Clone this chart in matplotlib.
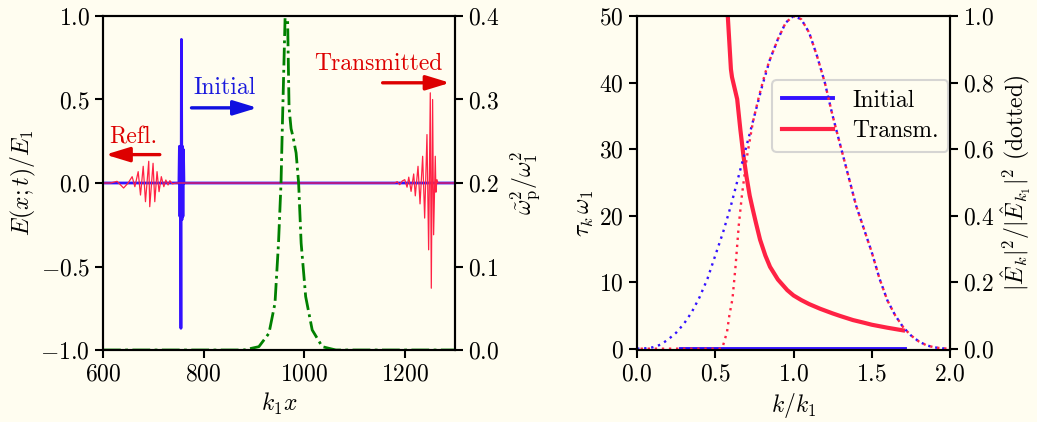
import matplotlib
matplotlib.use("Agg")
import matplotlib.pyplot as plt
import numpy as np

plt.rcParams.update({
    "font.family": "serif",
    "font.serif": ["cmr10"],
    "mathtext.fontset": "cm",
    "axes.formatter.use_mathtext": True,
    "font.size": 17,
    "axes.linewidth": 1.5,
    "xtick.major.width": 1.5,
    "ytick.major.width": 1.5,
    "xtick.major.size": 6,
    "ytick.major.size": 6,
    "axes.unicode_minus": True,
})

BG = "#fffdf0"

# ---------------- left panel data ----------------
init_x = [600, 751, 752, 753, 754, 755, 756, 757, 758, 759, 760, 761, 1300]
init_y = [0, 0, 0.22, -0.2, 0.22, -0.87, 0.86, -0.22, 0.22, -0.2, 0.2, 0, 0]

field_x = [600, 615, 628, 641, 650, 658, 663.4, 670, 674.6, 680, 684.5, 691, 693, 699.6, 703,
           707.5, 711.5, 716, 721, 725, 729.4, 733, 738, 745,
           1180, 1185, 1190, 1195, 1200, 1204.6, 1208, 1212.6, 1217.8, 1221, 1226.4, 1230.4,
           1235.6, 1239.6, 1244.2, 1247.5, 1250.8, 1252.8, 1255.4, 1257.4, 1260.7, 1262,
           1264, 1266, 1300]
field_y = [0, 0, 0.01, -0.03, 0.0, 0.038, -0.022, 0.068, -0.072, 0.10, -0.112, 0.13, -0.142, 0.118, -0.112,
           0.068, -0.052, 0.038, -0.022, 0.018, -0.012, 0.014, -0.005, 0,
           0, 0.008, -0.01, 0.012, 0.02, -0.025, 0.035, -0.05, 0.054, -0.077, 0.10, -0.125,
           0.16, -0.21, 0.29, -0.40, 0.54, -0.63, 0.50, -0.31, 0.16, -0.055,
           0.02, 0, 0]

plasma_x = [600, 880, 910, 930, 942, 949, 954, 957, 960, 963, 965, 967, 970, 974, 978, 984,
            989, 994, 1003, 1016, 1036, 1063, 1100, 1300]
plasma_y = [0, 0, 0.004, 0.02, 0.056, 0.128, 0.2, 0.276, 0.348, 0.42, 0.46, 0.40, 0.29, 0.265,
            0.255, 0.236, 0.2, 0.128, 0.064, 0.024, 0.004, 0, 0, 0]

# ---------------- right panel data ----------------
tau_init_k = [0.28, 1.71]
tau_init = [0, 0]

tau_tr_k = [0.58, 0.59, 0.60, 0.607, 0.62, 0.64, 0.66, 0.68, 0.70, 0.72, 0.74, 0.76, 0.786,
            0.82, 0.85, 0.90, 0.96, 1.0, 1.05, 1.1, 1.17, 1.25, 1.3, 1.38, 1.45, 1.5, 1.6, 1.7]
tau_tr = [50, 46, 42, 40.8, 39.5, 37.5, 33, 29, 25.8, 23, 20.9, 18.9, 16.4,
          14, 12.3, 10.4, 8.8, 8.0, 7.3, 6.7, 6.0, 5.3, 4.9, 4.3, 3.9, 3.6, 3.15, 2.75]

spec_init_k = [0.0, 0.05, 0.1, 0.15, 0.2, 0.25, 0.3, 0.35, 0.4, 0.45, 0.5, 0.55, 0.6, 0.65,
               0.7, 0.75, 0.8, 0.85, 0.9, 0.95, 1.0, 1.05, 1.1, 1.15, 1.2, 1.25, 1.3, 1.35,
               1.4, 1.45, 1.5, 1.55, 1.6, 1.65, 1.7, 1.75, 1.8, 1.85, 1.9, 1.95, 2.0]
spec_init = [0.0, 0.001, 0.004, 0.012, 0.028, 0.048, 0.075, 0.11, 0.155, 0.21, 0.28, 0.35,
             0.43, 0.52, 0.61, 0.70, 0.79, 0.87, 0.93, 0.98, 1.0, 0.99, 0.95, 0.88, 0.80,
             0.70, 0.61, 0.52, 0.43, 0.36, 0.29, 0.21, 0.145, 0.10, 0.065, 0.04, 0.022,
             0.01, 0.004, 0.001, 0.0]

spec_tr_k = [0.0, 0.54, 0.55, 0.575, 0.59, 0.61, 0.63, 0.65, 0.67, 0.70, 0.74, 0.78, 0.82,
             0.85, 0.9, 0.95, 1.0, 1.05, 1.1, 1.15, 1.2, 1.25, 1.3, 1.35, 1.4, 1.45, 1.5,
             1.55, 1.6, 1.65, 1.7, 1.75, 1.8, 1.85, 1.9, 1.95, 2.0]
spec_tr = [0.0, 0.0, 0.01, 0.05, 0.10, 0.15, 0.25, 0.37, 0.46, 0.57, 0.68, 0.76, 0.83,
           0.87, 0.93, 0.98, 1.0, 0.99, 0.95, 0.88, 0.80, 0.70, 0.61, 0.52, 0.43, 0.36, 0.29,
           0.21, 0.145, 0.10, 0.065, 0.04, 0.022, 0.01, 0.004, 0.001, 0.0]

BLUE = "#3311ff"
RED = "#ff2244"
TRED = "#dd0000"
TBLUE = "#1a1add"
GREEN = "#008000"

fig = plt.figure(figsize=(10.37, 4.22), dpi=100, facecolor=BG)
ax1 = fig.add_axes([0.0993, 0.1706, 0.3395, 0.7915], facecolor=BG)
ax1b = ax1.twinx()

ax1.plot(init_x, init_y, color=BLUE, lw=2.0, zorder=3)
ax1.plot(field_x, field_y, color=RED, lw=0.9, zorder=4)
ax1b.plot(plasma_x, plasma_y, color=GREEN, lw=2, ls="-.")

ax1.set_xlim(600, 1300)
ax1.set_ylim(-1, 1)
ax1b.set_ylim(0, 0.4)
ax1.set_xticks([600, 800, 1000, 1200])
ax1.set_yticks([-1.0, -0.5, 0.0, 0.5, 1.0])
ax1b.set_yticks([0.0, 0.1, 0.2, 0.3, 0.4])
ax1.set_xlabel(r"$k_1 x$", labelpad=4)
ax1.set_ylabel(r"$E(x;t)/E_1$", labelpad=2)
ax1b.set_ylabel(r"$\tilde{\omega}_\mathrm{p}^2/\omega_1^2$", labelpad=6)

ax1b.text(842, 0.57 * 0.2 + 0.2, "Initial", color=TBLUE, ha="center", va="center", fontsize=17)
ax1b.text(661, 0.27 * 0.2 + 0.2, "Refl.", color=TRED, ha="center", va="center", fontsize=17)
ax1b.text(1147, 0.71 * 0.2 + 0.2, "Transmitted", color=TRED, ha="center", va="center", fontsize=17)

def arrow(ax, x0, x1, y, c):
    ax.annotate("", xy=(x1, y), xytext=(x0, y),
                arrowprops=dict(arrowstyle="-|>,head_length=0.72,head_width=0.22",
                                color=c, lw=2.4, shrinkA=0, shrinkB=0, mutation_scale=20))

arrow(ax1b, 776, 907, 0.45 * 0.2 + 0.2, "#1010e0")
arrow(ax1b, 713, 605, 0.17 * 0.2 + 0.2, TRED)
arrow(ax1b, 1156, 1290, 0.60 * 0.2 + 0.2, TRED)

# ---------------- right panel ----------------
ax2 = fig.add_axes([0.6143, 0.1706, 0.3018, 0.7915], facecolor=BG)
ax2b = ax2.twinx()
ax2.plot(tau_init_k, tau_init, color=BLUE, lw=2.8, label="Initial")
ax2.plot(tau_tr_k, tau_tr, color=RED, lw=3, label="Transm.")
ax2b.plot(spec_init_k, spec_init, color=BLUE, lw=1.7, ls=(0, (1, 2.0)))
ax2b.plot(spec_tr_k, spec_tr, color=RED, lw=1.7, ls=(1.5, (1, 2.0)))

ax2.set_xlim(0, 2)
ax2.set_ylim(-0.2, 50)
ax2b.set_ylim(-0.004, 1.0)
ax2.set_xticks([0.0, 0.5, 1.0, 1.5, 2.0])
ax2.set_yticks([0, 10, 20, 30, 40, 50])
ax2b.set_yticks([0.0, 0.2, 0.4, 0.6, 0.8, 1.0])
ax2.set_xlabel(r"$k/k_1$", labelpad=4)
ax2.set_ylabel(r"$\tau_k\,\omega_1$", labelpad=6)
ax2.yaxis.set_label_coords(-0.13, 0.41)
ax2b.set_ylabel(r"$|\hat{E}_k|^2/|\hat{E}_{k_1}|^2$ (dotted)", labelpad=3)

leg = ax2.legend(loc="upper right", bbox_to_anchor=(0.995, 0.808), borderaxespad=0,
                 fontsize=17, handlelength=2.2, framealpha=0.8, edgecolor="#cccccc",
                 borderpad=0.4, labelspacing=0.35, handletextpad=0.8)
leg.get_frame().set_linewidth(1.5)
leg.get_frame().set_facecolor(BG)

for a in (ax1, ax1b, ax2, ax2b):
    a.tick_params(direction="out", labelsize=17)

fig.savefig("out.png", dpi=100, facecolor=BG)
